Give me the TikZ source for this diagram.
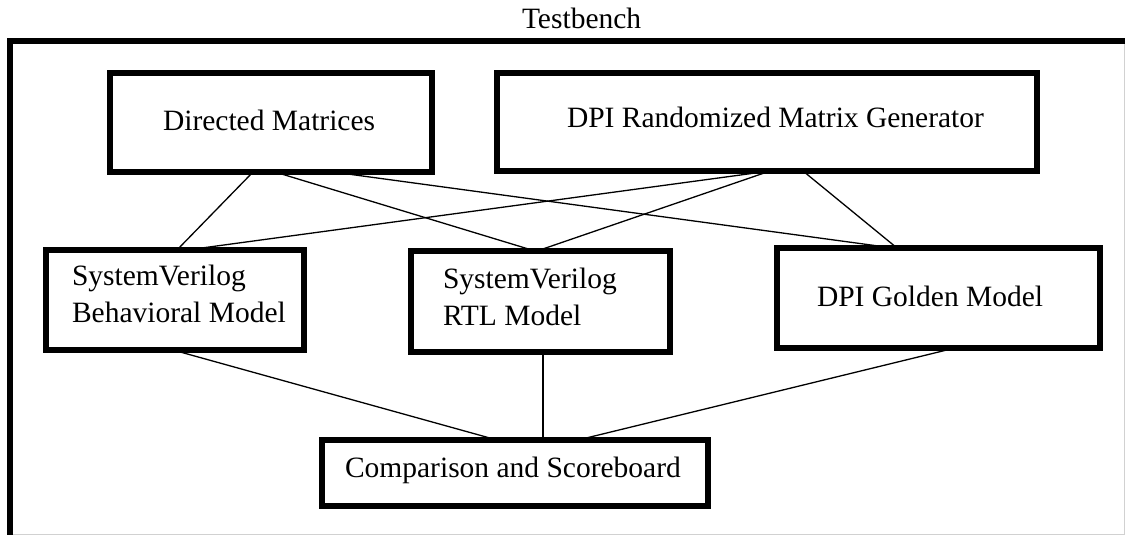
\documentclass[tikz,border=0pt]{standalone}
\usepackage{fontspec}
\setmainfont{Liberation Serif}
\begin{document}
\begin{tikzpicture}[x=1pt,y=-1pt,
  frameline/.style={line width=6pt,line join=miter},
  edgeline/.style={draw=black!18,line width=1pt},
  block/.style={draw,line width=5.5pt,rectangle,inner sep=0pt,outer sep=0pt},
  label/.style={inner sep=0pt,outer sep=0pt,anchor=base west,
                font=\fontsize{29.5}{37}\selectfont},
  link/.style={line width=1.3pt}]
\useasboundingbox (0,0) rectangle (1125,535);

% outer testbench frame (top and left edges) and the thin page edges
\draw[edgeline] (1124,38) -- (1124,535);
\draw[edgeline] (7,534) -- (1125,534);
\draw[frameline] (10,535) -- (10,41) -- (1125,41);
\node[label] (tbtitle) at (522,29) {Testbench};

% stimulus sources
\node[block,minimum width=322pt,minimum height=99pt] (dm)  at (271,122.5) {};
\node[block,minimum width=540pt,minimum height=98pt] (dpi) at (767,122) {};
\node[label] (dmtext)  at (163,130) {Directed Matrices};
\node[label] (dpitext) at (567,127) {DPI Randomized Matrix Generator};

% models under test
\node[block,minimum width=258pt,minimum height=100pt] (bm)  at (175,300) {};
\node[block,minimum width=259pt,minimum height=101pt] (rtl) at (540.5,301.5) {};
\node[block,minimum width=323pt,minimum height=100pt] (gm)  at (938.5,298) {};
\node[label] (bmtext1)  at (72,285)  {SystemVerilog};
\node[label] (bmtext2)  at (72,322)  {Behavioral Model};
\node[label] (rtltext1) at (443,288) {SystemVerilog};
\node[label] (rtltext2) at (443,325) {RTL Model};
\node[label] (gmtext)   at (817,306) {DPI Golden Model};

% checker
\node[block,minimum width=386pt,minimum height=66pt] (cs) at (515,473) {};
\node[label] (cstext) at (345,477) {Comparison and Scoreboard};

% stimulus to every model
\draw[link] ([xshift=-18pt]dm.south) -- ([xshift=2pt]bm.north);
\draw[link] ([xshift=4pt]dm.south)   -- ([xshift=-5.5pt]rtl.north);
\draw[link] ([xshift=62pt]dm.south)  -- ([xshift=-45.5pt]gm.north);
\draw[link] ([xshift=3pt]dpi.south)  -- ([xshift=12pt]bm.north);
\draw[link] ([xshift=3pt]dpi.south)  -- ([xshift=-3.5pt]rtl.north);
\draw[link] ([xshift=36pt]dpi.south) -- ([xshift=-41.5pt]gm.north);

% every model to the scoreboard
\draw[link] ([xshift=-2pt]bm.south)   -- ([xshift=-18pt]cs.north);
\draw[link] ([xshift=2.5pt]rtl.south) -- ([xshift=28pt]cs.north);
\draw[link] ([xshift=16.5pt]gm.south) -- ([xshift=63pt]cs.north);
\end{tikzpicture}
\end{document}
